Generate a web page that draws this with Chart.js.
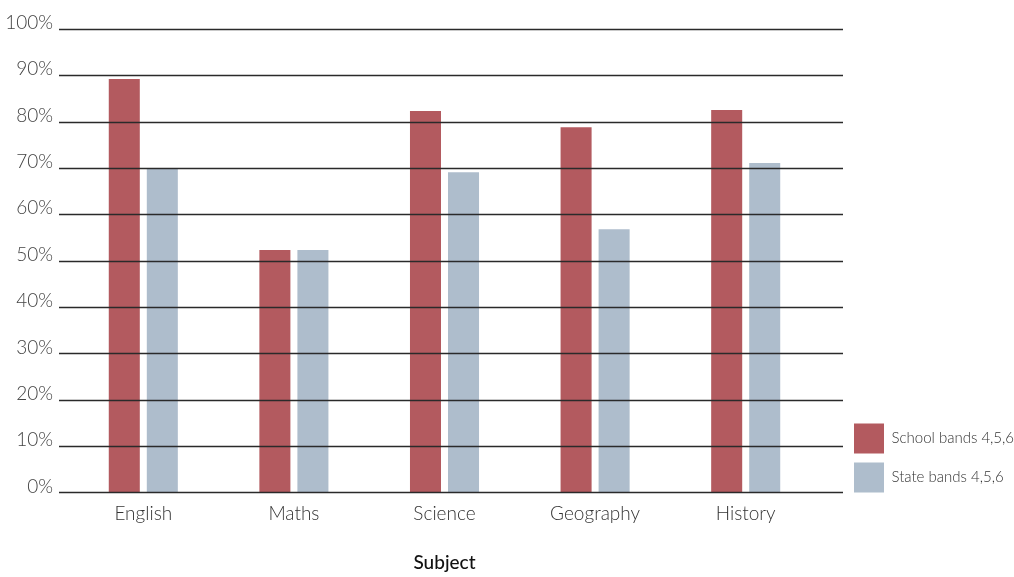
<!DOCTYPE html>
<html><head><meta charset="utf-8">
<script src="https://cdn.jsdelivr.net/npm/chart.js@4/dist/chart.umd.min.js"></script>
<style>html,body{margin:0;padding:0;background:#fff}#wrap{width:1014px;height:577px}</style>
</head><body><div id="wrap"><canvas id="c"></canvas></div>
<script>
const categories = ['English','Maths','Science','Geography','History'];
const schoolBands = [89.2, 52.3, 82.3, 78.8, 82.5];
const stateBands = [70.0, 52.3, 69.1, 56.8, 71.1];
const yTicks = [0,10,20,30,40,50,60,70,80,90,100];

const gridPlugin = {
  id:'gridOver',
  afterLayout(chart){
    if (chart.legend){ chart.legend.top += 9; chart.legend.bottom += 9; }
  },
  afterDatasetsDraw(chart){
    const y = chart.scales.y, a = chart.chartArea, ctx = chart.ctx;
    ctx.save();
    ctx.strokeStyle = '#2a2a2a';
    ctx.lineWidth = 1.3;
    yTicks.forEach(v=>{
      const py = Math.round(y.getPixelForValue(v)) + 0.5;
      ctx.beginPath();
      ctx.moveTo(a.left - 9, py);
      ctx.lineTo(a.right + 22, py);
      ctx.stroke();
    });
    ctx.restore();
  }
};

new Chart(document.getElementById('c'), {
  type:'bar',
  data:{
    labels: categories,
    datasets:[
      {label:'School bands 4,5,6', data: schoolBands, backgroundColor:'#B35A5F', categoryPercentage:0.505, barPercentage:0.816},
      {label:'State bands 4,5,6', data: stateBands, backgroundColor:'#AEBDCC', categoryPercentage:0.505, barPercentage:0.816}
    ]
  },
  options:{
    responsive:true, maintainAspectRatio:false, animation:false,
    layout:{padding:{top:29,right:0,bottom:3,left:0}},
    plugins:{
      legend:{position:'right', align:'end', fullSize:false,
        labels:{boxWidth:30, boxHeight:30, padding:9, color:'#333', font:{family:'Lato', size:15, weight:'300'}}},
      tooltip:{enabled:false}
    },
    scales:{
      x:{grid:{display:false}, border:{display:false},
        ticks:{color:'#333', padding:2, font:{family:'Lato', size:19, weight:'300'}},
        title:{display:true, text:'Subject', color:'#111', padding:{top:24,bottom:0}, font:{family:'Lato', size:19, weight:'500'}}},
      y:{min:0, max:100, grid:{display:false}, border:{display:false},
        afterFit(s){ s.width = 68; },
        afterBuildTicks(s){ s.ticks = yTicks.map(v=>({value:v})); },
        ticks:{padding:7, labelOffset:-6, color:'#444', font:{family:'Lato', size:19, weight:'300'}, callback:v=>v+'%'}},
      yPad:{position:'right', min:0, max:100, grid:{display:false}, border:{display:false},
        ticks:{display:false}, afterFit(s){ s.width = 24; }}
    }
  },
  plugins:[gridPlugin]
});
</script></body></html>
